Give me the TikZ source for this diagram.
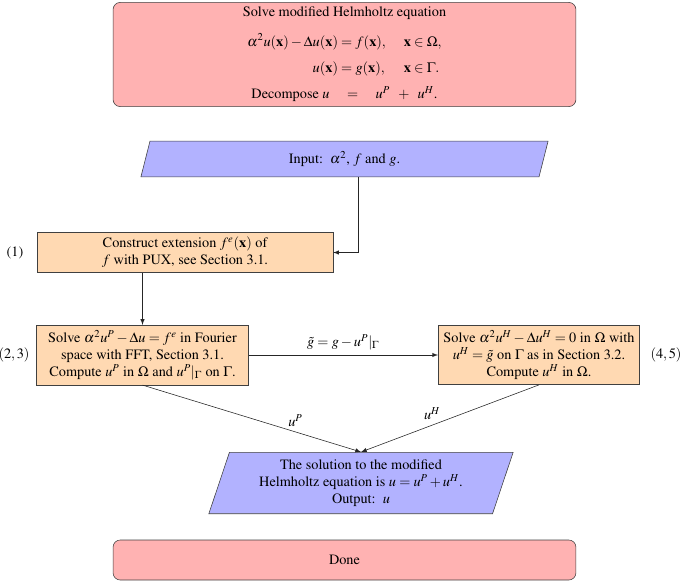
\documentclass[tikz,border=0pt]{standalone}
\usepackage[T1]{fontenc}
\usepackage{amsmath}
\usepackage{mathptmx}
\usetikzlibrary{shapes.geometric}
\tikzset{>=latex}
\tikzset{
	startstop/.style={rectangle,rounded corners=5pt,draw=black!75,fill=red!30,align=center,minimum width=324pt},
	io/.style={trapezium,trapezium left angle=70,trapezium right angle=110,trapezium stretches body,draw=black!75,fill=blue!30,align=center},
	process/.style={rectangle,draw=black!75,fill=orange!30,align=center},
	flow/.style={->,black!85},
}

\begin{document}
\begin{tikzpicture}[x=0.7pt,y=-0.7pt]
	\useasboundingbox (0,0) rectangle (685,581);

	\node[startstop,minimum height=71pt] (start) at (344.5,54.5) {Solve modified Helmholtz equation\\[8.5pt]
		$\begin{alignedat}{2}\alpha^2u(\mathbf{x})-\Delta u(\mathbf{x}) &= f(\mathbf{x}), &\quad\ \mathbf{x}&\in\Omega,\\[3pt]
		u(\mathbf{x}) &= g(\mathbf{x}), &\quad\ \mathbf{x}&\in\Gamma.\end{alignedat}$\\[5.5pt]
		Decompose $u\quad=\quad u^P\;\;+\;\;u^H$.};
	\node[io,minimum width=285pt,minimum height=25pt] (in) at (344.5,159) {Input:\ \ $\alpha^2$, $f$ and $g$.};

	\node[process,minimum width=207pt,minimum height=21.7pt] (ext) at (185,252.5) {Construct extension $f^e(\mathbf{x})$ of\\ $f$ with PUX, see Section 3.1.};
	\node (l1) at (15,252.5) {(1)};

	\node[process,minimum width=148pt,minimum height=38pt] (part) at (142.5,355) {Solve $\alpha^2u^P-\Delta u = f^e$ in Fourier\\ space with FFT, Section 3.1.\\ Compute $u^P$ in $\Omega$ and $u^P|_\Gamma$ on $\Gamma$.};
	\node (l23) at (14,355) {$(2,3)$};

	\node[process,minimum width=141pt,minimum height=38pt] (hom) at (539,355) {Solve $\alpha^2u^H-\Delta u^H = 0$ in $\Omega$ with\\ $u^H = \tilde g$ on $\Gamma$ as in Section 3.2.\\ Compute $u^H$ in $\Omega$.};
	\node (l45) at (666,355) {$(4,5)$};

	\node[io,minimum width=213pt,minimum height=43pt] (out) at (361,483) {The solution to the modified\\ Helmholtz equation is $u = u^P + u^H$.\\ Output:\ \ $u$};

	\node[startstop,minimum height=28pt] (done) at (344.5,560) {Done};

	\coordinate (c1) at (358,177);
	\draw[flow] (c1) |- (ext.east);
	\draw[flow] (ext.south -| part.north) -- (part.north);
	\draw[flow] (part.east) -- node[above,black] {$\tilde g = g - u^P|_\Gamma$} (hom.west);
	\draw[flow] (part.south) -- node[pos=0.7,above,black] {$u^P$} (out.north);
	\draw[flow] (hom.south) -- node[pos=0.6,above,black] {$u^H$} (out.north);

\end{tikzpicture}
\end{document}
